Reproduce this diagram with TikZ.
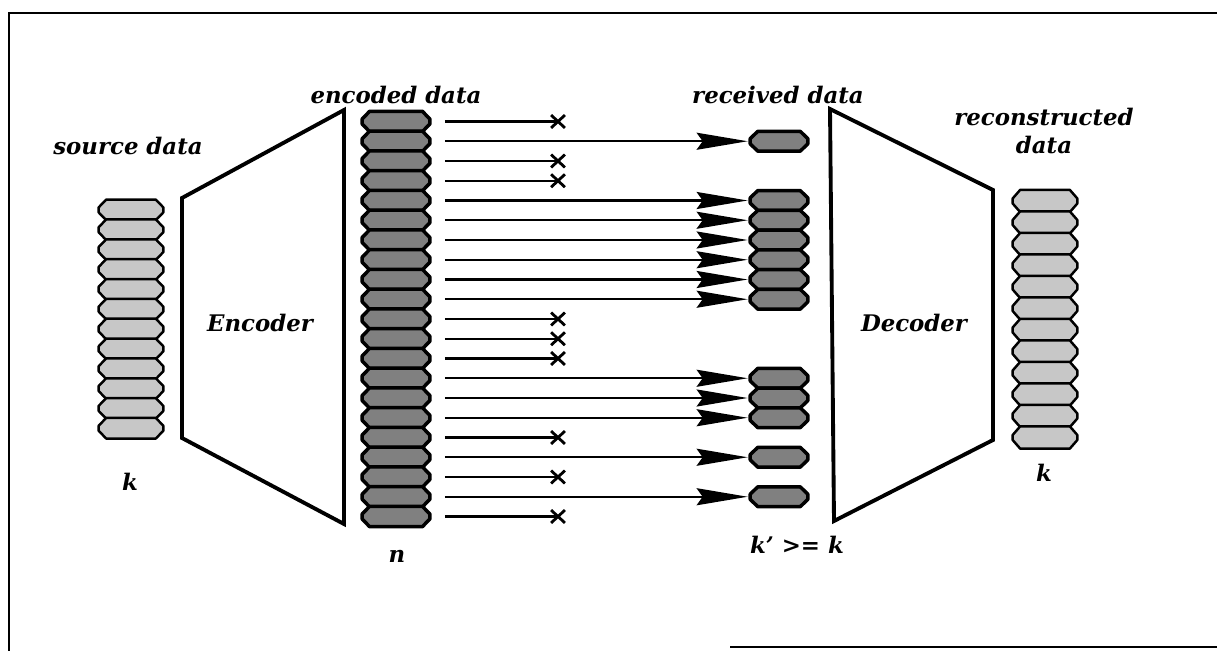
\documentclass[tikz,border=0pt]{standalone}
\usepackage{fontspec}
\newfontfamily\lblfont{DejaVu Serif}
\usetikzlibrary{arrows.meta,shapes.misc}
\newcommand\octcell[2]{%
  \path[#2] ([xshift=0.15cm]#1.north west) -- ([xshift=-0.15cm]#1.north east)
    -- ([yshift=0.05cm]#1.east) -- ([yshift=-0.05cm]#1.east)
    -- ([xshift=-0.15cm]#1.south east) -- ([xshift=0.15cm]#1.south west)
    -- ([yshift=-0.05cm]#1.west) -- ([yshift=0.05cm]#1.west) -- cycle;}
\begin{document}
\begin{tikzpicture}[x=0.02cm,y=-0.02cm,
  slot/.style={rectangle, inner sep=0pt, minimum width=#1},
  srcslot/.style={slot=1.28cm, minimum height=0.397cm},
  encslot/.style={slot=1.34cm, minimum height=0.395cm},
  rcvslot/.style={slot=1.14cm, minimum height=0.38cm},
  recslot/.style={slot=1.28cm, minimum height=0.43cm},
  lightfill/.style={draw=black, line width=1.4pt, fill=black!22, line join=round},
  darkfill/.style={draw=black, line width=2pt, fill=black!50, line join=round},
  box/.style={line width=2.2pt, line join=miter},
  conn/.style={line width=1.3pt, shorten <=0.3cm},
  okconn/.style={conn, -{Stealth[length=1.02cm,width=0.34cm,inset=0.12cm]}, shorten >=0.05cm},
  lost/.style={cross out, draw=black, line width=1.6pt, minimum width=0.22cm, minimum height=0.2cm, inner sep=0pt},
  lbl/.style={font=\lblfont\fontsize{13}{16}\selectfont\bfseries\itshape, align=center},
  frame/.style={line width=1.2pt}]
\useasboundingbox (0,0) rectangle (1217,651);
% frame
\draw[frame] (9,651) -- (9,13) -- (1217,13);
\draw[frame] (730,647) -- (1217,647);
% source data
\foreach \i in {0,...,11} {
  \node[srcslot] (s\i) at (131,{209.9+19.85*\i}) {};
  \octcell{s\i}{lightfill}
}
% encoder
\draw[box] (182,198) -- (344,110) -- (344,524) -- (182,438) -- cycle;
\node[lbl] (enc) at (260,323) {Encoder};
% encoded data
\foreach \i in {0,...,20} {
  \node[encslot] (e\i) at (396,{121.5+19.75*\i}) {};
  \octcell{e\i}{darkfill}
}
% lost packets
\foreach \i in {0,2,3,10,11,12,16,18,20} {
  \node[lost] (x\i) at (558,{121.5+19.75*\i}) {};
  \draw[conn] (e\i.east) -- (x\i.center);
}
% received packets
\foreach \i in {1,4,5,6,7,8,9,13,14,15,17,19} {
  \node[rcvslot] (r\i) at (779,{121.5+19.75*\i}) {};
  \octcell{r\i}{darkfill}
  \draw[okconn] (e\i.east) -- (r\i.west);
}
% decoder
\draw[box] (830,109) -- (993,190) -- (993,440) -- (834,521) -- cycle;
\node[lbl] (dec) at (914,323) {Decoder};
% reconstructed
\foreach \i in {0,...,11} {
  \node[recslot] (c\i) at (1045,{201+21.5*\i}) {};
  \octcell{c\i}{lightfill}
}
% labels
\node[lbl] (lsrc) at (128,146) {source data};
\node[lbl] (lenc) at (396,95) {encoded data};
\node[lbl] (lrcv) at (778,95) {received data};
\node[lbl] (lrec) at (1044,131) {reconstructed\\data};
\node[lbl] (lk1) at (130,482) {k};
\node[lbl] (ln) at (397,556) {n};
\node[lbl] (lk2) at (797,545) {k’ >= k};
\node[lbl] (lk3) at (1044,473) {k};
\end{tikzpicture}
\end{document}
